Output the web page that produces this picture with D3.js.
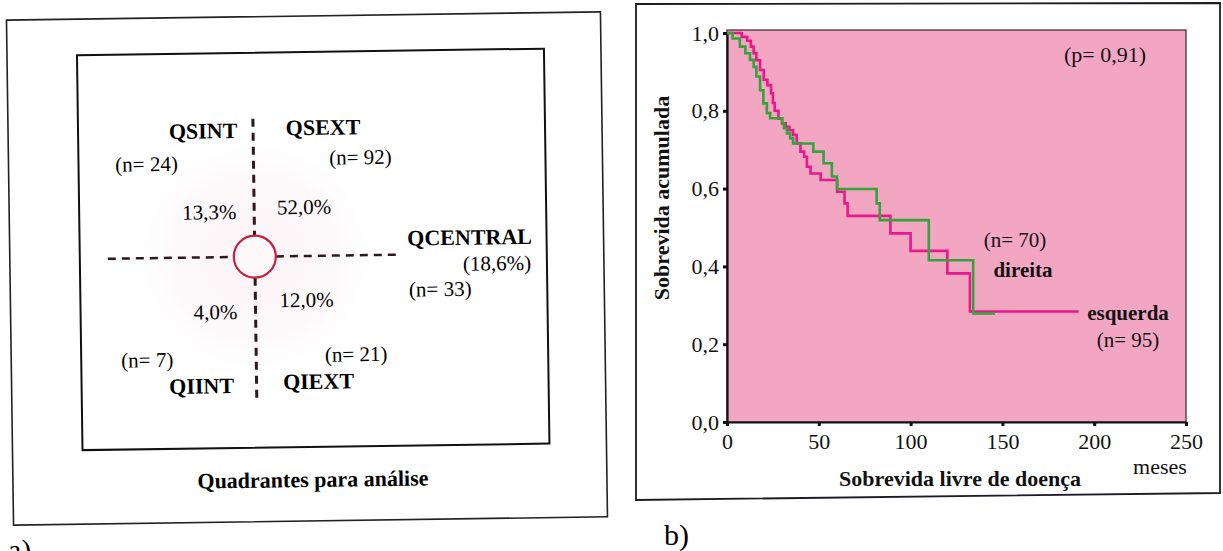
<!DOCTYPE html>
<html>
<head>
<meta charset="utf-8">
<script src="https://cdn.jsdelivr.net/npm/d3@7"></script>
<style>
  html, body { margin: 0; padding: 0; background: #fff; }
  svg { display: block; font-family: "Liberation Serif", "DejaVu Serif", serif; }
</style>
</head>
<body>
<div id="chart"></div>
<script>
// panel a: quadrants
const quadNames = ['QSINT', 'QSEXT', 'QIINT', 'QIEXT', 'QCENTRAL'];
const quadN = [24, 92, 7, 21, 33];
const quadPct = ['13,3%', '52,0%', '4,0%', '12,0%', '(18,6%)'];

// panel b: Kaplan-Meier curves (months, cumulative survival)
const xTicks = [0, 50, 100, 150, 200, 250];
const yTicks = [0, 0.2, 0.4, 0.6, 0.8, 1.0];

const esquerdaMonths = [0, 8, 11, 13, 14.5, 16, 18, 20, 22, 24, 25, 26, 28, 30, 32, 34, 36, 38, 40, 42, 43.5, 45.5, 51, 60, 64, 65.7, 89, 100, 120, 132.3, 191.5];
const esquerdaSurv = [1.0, 0.99, 0.98, 0.965, 0.948, 0.93, 0.905, 0.88, 0.866, 0.845, 0.82, 0.80, 0.78, 0.768, 0.759, 0.75, 0.738, 0.716, 0.695, 0.682, 0.656, 0.639, 0.622, 0.592, 0.562, 0.53, 0.485, 0.44, 0.382, 0.284, 0.284];

const direitaMonths = [0, 3, 7, 10, 12.5, 14.5, 16, 18, 19.8, 21.7, 23.5, 30, 31, 32.6, 34.4, 36, 47, 52.6, 57.1, 59.9, 81.5, 83.2, 109.9, 134.1, 146];
const direitaSurv = [1.0, 0.986, 0.965, 0.948, 0.931, 0.913, 0.888, 0.853, 0.819, 0.794, 0.781, 0.768, 0.755, 0.742, 0.729, 0.716, 0.695, 0.665, 0.631, 0.599, 0.562, 0.519, 0.416, 0.279, 0.279];

const W = 1223, H = 551;
const svg = d3.select('#chart').append('svg').attr('width', W).attr('height', H);

const serif = '"Liberation Serif", "DejaVu Serif", serif';

// ---------- panel a ----------
const a = svg.append('g').attr('transform', 'rotate(-0.8, 305, 270)');

a.append('rect').attr('x', 10).attr('y', 16).attr('width', 594).attr('height', 505)
  .attr('fill', 'none').attr('stroke', '#222').attr('stroke-width', 1.6);
a.append('rect').attr('x', 80).attr('y', 52).attr('width', 467).attr('height', 395)
  .attr('fill', 'none').attr('stroke', '#111').attr('stroke-width', 2);

const grad = svg.append('defs').append('radialGradient').attr('id', 'glow');
grad.append('stop').attr('offset', '0%').attr('stop-color', '#fcf5f8');
grad.append('stop').attr('offset', '65%').attr('stop-color', '#fdf8fa');
grad.append('stop').attr('offset', '100%').attr('stop-color', '#ffffff');

const cx = 255, cy = 256, cr = 21;
a.append('circle').attr('cx', cx).attr('cy', cy).attr('r', 115).attr('fill', 'url(#glow)');

const dash = (x1, y1, x2, y2, w) => a.append('line')
  .attr('x1', x1).attr('y1', y1).attr('x2', x2).attr('y2', y2)
  .attr('stroke', '#2e1820').attr('stroke-width', w).attr('stroke-dasharray', '8,6');
dash(cx, 118, cx, cy - cr, 3);
dash(cx, cy + cr, cx, 400, 3);
dash(108, cy, cx - cr, cy, 2.5);
dash(cx + cr, cy, 400, cy, 2.5);

a.append('circle').attr('cx', cx).attr('cy', cy).attr('r', cr)
  .attr('fill', '#fdf8fa').attr('stroke', '#c8203a').attr('stroke-width', 2.2);

// label layout: [name x,y], [n x,y], [pct x,y]
const nameLayout = [[205, 137], [325, 135], [200, 392], [317, 389], [470, 247]];
const nLayout = [[148, 169], [362, 165], [146, 365], [355, 362], [440, 298]];
const pctLayout = [[210, 218], [305, 214], [215, 318], [306, 307], [497, 273]];

a.selectAll('text.qname').data(quadNames).enter().append('text')
  .attr('class', 'qname')
  .attr('x', (d, i) => nameLayout[i][0]).attr('y', (d, i) => nameLayout[i][1])
  .attr('text-anchor', 'middle').attr('font-weight', 'bold').attr('font-size', 22)
  .text(d => d);

a.selectAll('text.qn').data(quadN).enter().append('text')
  .attr('class', 'qn')
  .attr('x', (d, i) => nLayout[i][0]).attr('y', (d, i) => nLayout[i][1])
  .attr('text-anchor', 'middle').attr('font-size', 21)
  .text(d => `(n= ${d})`);

a.selectAll('text.qp').data(quadPct).enter().append('text')
  .attr('class', 'qp')
  .attr('x', (d, i) => pctLayout[i][0]).attr('y', (d, i) => pctLayout[i][1])
  .attr('text-anchor', 'middle').attr('font-size', 21)
  .text(d => d);

a.append('text').attr('x', 310).attr('y', 487).attr('text-anchor', 'middle')
  .attr('font-weight', 'bold').attr('font-size', 22).text('Quadrantes para análise');

// label sits partly below the page edge, as in the scan
svg.append('text').attr('x', 8).attr('y', 560).attr('font-size', 30).text('a)');

// ---------- panel b ----------
svg.append('path')
  .attr('d', 'M636,4 L1220,3 L1220,493 L636,500 Z')
  .attr('fill', 'none').attr('stroke', '#1a1a2a').attr('stroke-width', 1.8);

const x = d3.scaleLinear().domain([0, 250]).range([727, 1186]);
const y = d3.scaleLinear().domain([0, 1]).range([422, 33]);

svg.append('rect')
  .attr('x', x(0)).attr('y', 30).attr('width', x(250) - x(0)).attr('height', y(0) - 30)
  .attr('fill', '#f2a6c1').attr('stroke', '#3a2a30').attr('stroke-width', 1.2);

const comma = v => d3.format('.1f')(v).replace('.', ',');

const yAxis = svg.append('g').attr('transform', `translate(${x(0)},0)`)
  .call(d3.axisLeft(y).tickValues(yTicks).tickSize(4).tickSizeOuter(0).tickFormat(comma));
const xAxis = svg.append('g').attr('transform', `translate(0,${y(0)})`)
  .call(d3.axisBottom(x).tickValues(xTicks).tickSize(4).tickSizeOuter(0).tickFormat(d3.format('d')));

[yAxis, xAxis].forEach(g => {
  g.select('.domain').attr('stroke', '#111').attr('stroke-width', 2.2);
  g.selectAll('.tick line').attr('stroke', '#111').attr('stroke-width', 3);
  g.selectAll('.tick text').attr('font-family', serif).attr('font-size', 22).attr('fill', '#111');
});
yAxis.selectAll('.tick text').attr('dx', '-0.05em');
xAxis.selectAll('.tick text').attr('dy', '0.9em');

const line = d3.line().curve(d3.curveStepAfter).x(d => x(d[0])).y(d => y(d[1]));

svg.append('path')
  .datum(d3.zip(esquerdaMonths, esquerdaSurv))
  .attr('d', line).attr('fill', 'none').attr('stroke', '#e8198b').attr('stroke-width', 2.6);

svg.append('path')
  .datum(d3.zip(direitaMonths, direitaSurv))
  .attr('d', line).attr('fill', 'none').attr('stroke', '#34a33a').attr('stroke-width', 2.6);

const note = (tx, ty, str, bold, size, anchor) => svg.append('text')
  .attr('x', tx).attr('y', ty).attr('font-size', size || 21)
  .attr('font-weight', bold ? 'bold' : 'normal')
  .attr('text-anchor', anchor || 'middle').attr('fill', '#111').text(str);

note(1105, 62, '(p= 0,91)', false, 22);
note(1015, 247, '(n= 70)');
note(1023, 277, 'direita', true, 21);
note(1128, 320, 'esquerda', true, 21);
note(1128, 347, '(n= 95)');
note(960, 486, 'Sobrevida livre de doença', true, 22);
note(1160, 474, 'meses', false, 22);

svg.append('text')
  .attr('transform', 'translate(669,198) rotate(-90)')
  .attr('text-anchor', 'middle').attr('font-weight', 'bold').attr('font-size', 22)
  .attr('fill', '#111').text('Sobrevida acumulada');

svg.append('text').attr('x', 664).attr('y', 545).attr('font-size', 30).text('b)');
</script>
</body>
</html>
